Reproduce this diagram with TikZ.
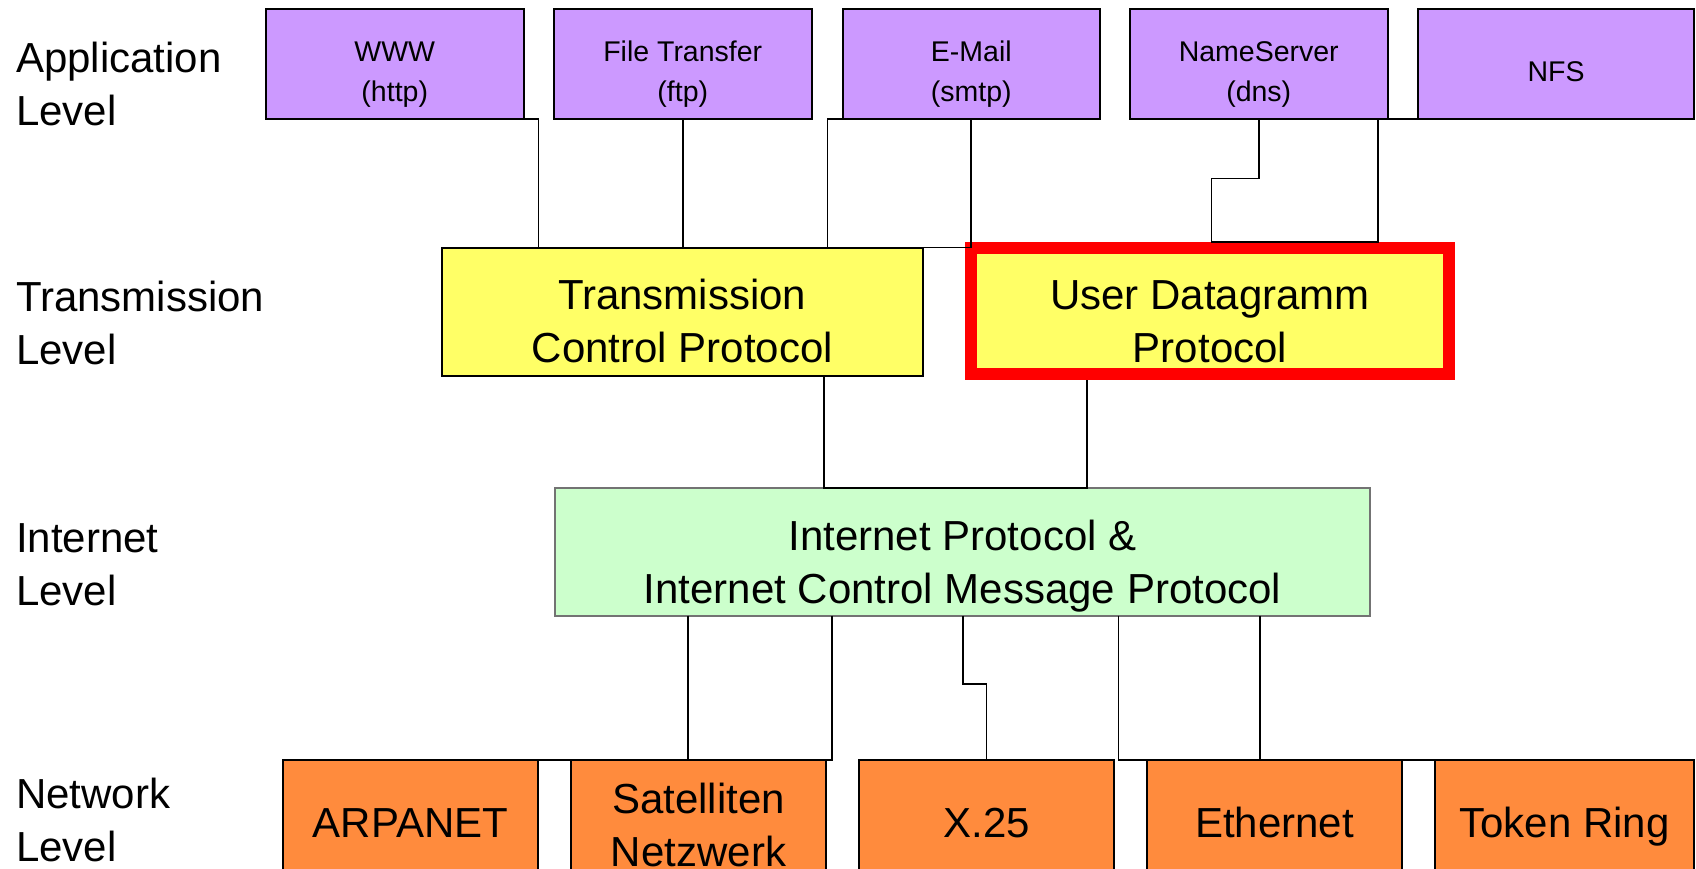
\documentclass[tikz,border=0pt]{standalone}
\usepackage{fontspec}
\setmainfont{Liberation Sans}
\definecolor{appfill}{HTML}{CC99FF}
\definecolor{trfill}{HTML}{FFFF66}
\definecolor{ipfill}{HTML}{CCFFCC}
\definecolor{netfill}{HTML}{FF8B3D}
\definecolor{udpred}{HTML}{FF0000}
\begin{document}
\begin{tikzpicture}[x=1pt,y=-1pt,
  box/.style={draw=black, line width=2pt, inner sep=0pt, outer sep=0pt, anchor=north west},
  appbox/.style={box, fill=appfill, minimum width=257.5pt, minimum height=110pt},
  netbox/.style={box, fill=netfill, minimum width=255pt, minimum height=170pt},
  lbl/.style={inner sep=0pt, anchor=base, align=center, font=\fontsize{42}{53}\selectfont},
  applbl/.style={lbl, font=\fontsize{28.5}{40}\selectfont},
  side/.style={lbl, anchor=base west, align=left},
  wire/.style={draw=black, line width=1.8pt}]
\clip (0,0) rectangle (1696,869);
\fill[white] (0,0) rectangle (1696,869);

% layer captions (anchored on the baseline of the last line)
\node[side] (capapp) at (16,126) {Application\\Level};
\node[side] (captr)  at (16,364) {Transmission\\Level};
\node[side] (capip)  at (16,605) {Internet\\Level};
\node[side] (capnet) at (16,861) {Network\\Level};

% application level
\node[appbox] (www) at (266,9) {};
\node[appbox] (ft)  at (554,9) {};
\node[appbox] (em)  at (842.6,9) {};
\node[appbox] (ns)  at (1130,9) {};
\node[appbox, minimum width=276pt] (nfs) at (1418,9) {};
\node[applbl] (twww) at (www.center |- 0,102) {WWW\\(http)};
\node[applbl] (tft)  at (ft.center |- 0,102) {File Transfer\\(ftp)};
\node[applbl] (tem)  at (em.center |- 0,102) {E-Mail\\(smtp)};
\node[applbl] (tns)  at (ns.center |- 0,102) {NameServer\\(dns)};
\node[applbl] (tnfs) at (nfs.center |- 0,82) {NFS};

% transmission level
\node[box, fill=trfill, minimum width=480.5pt, minimum height=128pt] (tcp) at (442,247.5) {};
\node[box, fill=trfill, draw=udpred, line width=11.5pt, outer sep=5.75pt,
      minimum width=478pt, minimum height=126pt] (udp) at (965.25,242.25) {};
\node[lbl] (ttcp) at (tcp.center |- 0,362) {Transmission\\Control Protocol};
\node[lbl] (tudp) at (udp.center |- 0,362) {User Datagramm\\Protocol};

% internet level
\node[box, fill=ipfill, draw=black!55, minimum width=815pt, minimum height=127.5pt] (ip) at (555,488) {};
\node[lbl] (tip) at (ip.center |- 0,603) {Internet Protocol \&\\Internet Control Message Protocol};

% network level
\node[netbox] (arp) at (283,760) {};
\node[netbox] (sat) at (571,760) {};
\node[netbox] (x25) at (859,760) {};
\node[netbox] (eth) at (1147,760) {};
\node[netbox, minimum width=259pt] (tr) at (1435,760) {};
\node[lbl] (tarp) at (arp.north |- 0,837) {ARPANET};
\node[lbl] (tsat) at (sat.north |- 0,866) {Satelliten\\Netzwerk};
\node[lbl] (tx25) at (x25.north |- 0,837) {X.25};
\node[lbl] (teth) at (eth.north |- 0,837) {Ethernet};
\node[lbl] (ttr)  at (tr.north |- 0,837) {Token Ring};

% application -> transmission
\draw[wire] (www.south) -| (538.5,0 |- tcp.north);
\draw[wire] (ft.south) -- (ft.south |- tcp.north);
\draw[wire] (em.south) -| (827.5,0 |- tcp.north);
\draw[wire] (em.south) -- (em.south |- tcp.north) -- (tcp.north east);
\draw[wire] (ns.south) -- (ns.south |- 0,178.5) -| (1211.4,0 |- udp.north)
            -- (1378,0 |- udp.north) |- (nfs.south);

% transmission -> internet
\draw[wire] (824.2,0 |- tcp.south) -- (824.2,0 |- ip.north) -| (1087,0 |- udp.south);

% internet -> network
\draw[wire] (831.8,0 |- ip.south) |- (arp.north);
\draw[wire] (688,0 |- ip.south) -- (688,0 |- sat.north);
\draw[wire] (962.6,0 |- ip.south) -- (962.6,683.6) -| (x25.north);
\draw[wire] (1118.4,0 |- ip.south) |- (tr.north);
\draw[wire] (1260,0 |- ip.south) -- (1260,0 |- eth.north);
\end{tikzpicture}
\end{document}
